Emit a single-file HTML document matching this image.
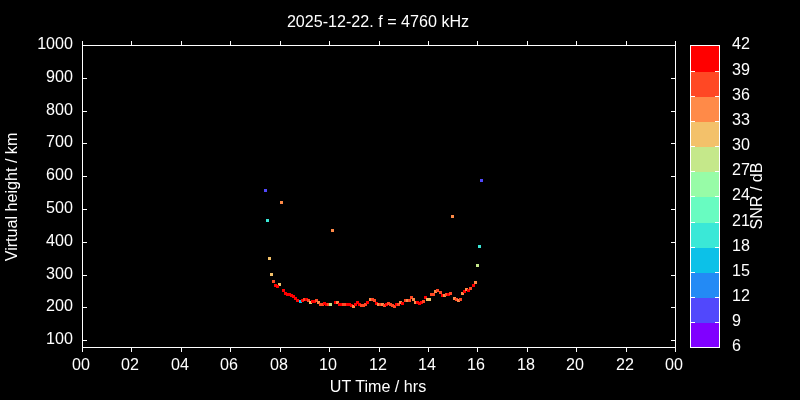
<!DOCTYPE html><html><head><meta charset="utf-8"><style>
html,body{margin:0;padding:0;background:#000;}
body{width:800px;height:400px;position:relative;overflow:hidden;font-family:"Liberation Sans",sans-serif;color:#fff;font-size:16.13px;line-height:20px;}
.l{position:absolute;background:#fff;}
.p{position:absolute;width:3px;height:3px;}
.t{position:absolute;white-space:nowrap;will-change:transform;}
</style></head><body>
<div class="l" style="left:82px;top:45px;width:594px;height:1px"></div>
<div class="l" style="left:82px;top:347px;width:594px;height:1px"></div>
<div class="l" style="left:82px;top:45px;width:1px;height:303px"></div>
<div class="l" style="left:675px;top:45px;width:1px;height:303px"></div>
<div class="l" style="left:82px;top:41px;width:1px;height:4px"></div>
<div class="l" style="left:82px;top:348px;width:1px;height:4px"></div>
<div class="t" style="left:51.25px;width:60px;text-align:center;top:354px">00</div>
<div class="l" style="left:131px;top:41px;width:1px;height:4px"></div>
<div class="l" style="left:131px;top:348px;width:1px;height:4px"></div>
<div class="t" style="left:100.25px;width:60px;text-align:center;top:354px">02</div>
<div class="l" style="left:181px;top:41px;width:1px;height:4px"></div>
<div class="l" style="left:181px;top:348px;width:1px;height:4px"></div>
<div class="t" style="left:150.25px;width:60px;text-align:center;top:354px">04</div>
<div class="l" style="left:230px;top:41px;width:1px;height:4px"></div>
<div class="l" style="left:230px;top:348px;width:1px;height:4px"></div>
<div class="t" style="left:199.25px;width:60px;text-align:center;top:354px">06</div>
<div class="l" style="left:280px;top:41px;width:1px;height:4px"></div>
<div class="l" style="left:280px;top:348px;width:1px;height:4px"></div>
<div class="t" style="left:249.25px;width:60px;text-align:center;top:354px">08</div>
<div class="l" style="left:329px;top:41px;width:1px;height:4px"></div>
<div class="l" style="left:329px;top:348px;width:1px;height:4px"></div>
<div class="t" style="left:298.25px;width:60px;text-align:center;top:354px">10</div>
<div class="l" style="left:379px;top:41px;width:1px;height:4px"></div>
<div class="l" style="left:379px;top:348px;width:1px;height:4px"></div>
<div class="t" style="left:348.25px;width:60px;text-align:center;top:354px">12</div>
<div class="l" style="left:428px;top:41px;width:1px;height:4px"></div>
<div class="l" style="left:428px;top:348px;width:1px;height:4px"></div>
<div class="t" style="left:397.25px;width:60px;text-align:center;top:354px">14</div>
<div class="l" style="left:477px;top:41px;width:1px;height:4px"></div>
<div class="l" style="left:477px;top:348px;width:1px;height:4px"></div>
<div class="t" style="left:446.25px;width:60px;text-align:center;top:354px">16</div>
<div class="l" style="left:527px;top:41px;width:1px;height:4px"></div>
<div class="l" style="left:527px;top:348px;width:1px;height:4px"></div>
<div class="t" style="left:496.25px;width:60px;text-align:center;top:354px">18</div>
<div class="l" style="left:576px;top:41px;width:1px;height:4px"></div>
<div class="l" style="left:576px;top:348px;width:1px;height:4px"></div>
<div class="t" style="left:545.25px;width:60px;text-align:center;top:354px">20</div>
<div class="l" style="left:626px;top:41px;width:1px;height:4px"></div>
<div class="l" style="left:626px;top:348px;width:1px;height:4px"></div>
<div class="t" style="left:595.25px;width:60px;text-align:center;top:354px">22</div>
<div class="l" style="left:675px;top:41px;width:1px;height:4px"></div>
<div class="l" style="left:675px;top:348px;width:1px;height:4px"></div>
<div class="t" style="left:644.25px;width:60px;text-align:center;top:354px">00</div>
<div class="l" style="left:83px;top:340px;width:4px;height:1px"></div>
<div class="l" style="left:671px;top:340px;width:4px;height:1px"></div>
<div class="t" style="left:0px;width:73px;text-align:right;top:328px">100</div>
<div class="l" style="left:83px;top:307px;width:4px;height:1px"></div>
<div class="l" style="left:671px;top:307px;width:4px;height:1px"></div>
<div class="t" style="left:0px;width:73px;text-align:right;top:295px">200</div>
<div class="l" style="left:83px;top:275px;width:4px;height:1px"></div>
<div class="l" style="left:671px;top:275px;width:4px;height:1px"></div>
<div class="t" style="left:0px;width:73px;text-align:right;top:263px">300</div>
<div class="l" style="left:83px;top:242px;width:4px;height:1px"></div>
<div class="l" style="left:671px;top:242px;width:4px;height:1px"></div>
<div class="t" style="left:0px;width:73px;text-align:right;top:230px">400</div>
<div class="l" style="left:83px;top:209px;width:4px;height:1px"></div>
<div class="l" style="left:671px;top:209px;width:4px;height:1px"></div>
<div class="t" style="left:0px;width:73px;text-align:right;top:197px">500</div>
<div class="l" style="left:83px;top:176px;width:4px;height:1px"></div>
<div class="l" style="left:671px;top:176px;width:4px;height:1px"></div>
<div class="t" style="left:0px;width:73px;text-align:right;top:164px">600</div>
<div class="l" style="left:83px;top:143px;width:4px;height:1px"></div>
<div class="l" style="left:671px;top:143px;width:4px;height:1px"></div>
<div class="t" style="left:0px;width:73px;text-align:right;top:131px">700</div>
<div class="l" style="left:83px;top:111px;width:4px;height:1px"></div>
<div class="l" style="left:671px;top:111px;width:4px;height:1px"></div>
<div class="t" style="left:0px;width:73px;text-align:right;top:99px">800</div>
<div class="l" style="left:83px;top:78px;width:4px;height:1px"></div>
<div class="l" style="left:671px;top:78px;width:4px;height:1px"></div>
<div class="t" style="left:0px;width:73px;text-align:right;top:66px">900</div>
<div class="l" style="left:83px;top:45px;width:4px;height:1px"></div>
<div class="l" style="left:671px;top:45px;width:4px;height:1px"></div>
<div class="t" style="left:0px;width:73px;text-align:right;top:33px">1000</div>
<div class="p" style="left:691px;top:46px;width:28px;height:26px;background:#ff0000"></div>
<div class="p" style="left:691px;top:72px;width:28px;height:25px;background:#ff4824"></div>
<div class="p" style="left:691px;top:97px;width:28px;height:25px;background:#ff8a48"></div>
<div class="p" style="left:691px;top:122px;width:28px;height:25px;background:#f3c16a"></div>
<div class="p" style="left:691px;top:147px;width:28px;height:25px;background:#c5e88a"></div>
<div class="p" style="left:691px;top:172px;width:28px;height:25px;background:#97fca7"></div>
<div class="p" style="left:691px;top:197px;width:28px;height:26px;background:#68fcc1"></div>
<div class="p" style="left:691px;top:223px;width:28px;height:25px;background:#3ae8d7"></div>
<div class="p" style="left:691px;top:248px;width:28px;height:25px;background:#0cc1e8"></div>
<div class="p" style="left:691px;top:273px;width:28px;height:25px;background:#238af5"></div>
<div class="p" style="left:691px;top:298px;width:28px;height:25px;background:#5148fc"></div>
<div class="p" style="left:691px;top:323px;width:28px;height:25px;background:#8000ff"></div>
<div class="l" style="left:690px;top:45px;width:30px;height:1px"></div>
<div class="l" style="left:690px;top:347px;width:30px;height:1px"></div>
<div class="l" style="left:690px;top:45px;width:1px;height:303px"></div>
<div class="l" style="left:719px;top:45px;width:1px;height:303px"></div>
<div class="t" style="left:732px;top:335px">6</div>
<div class="l" style="left:691px;top:322px;width:4px;height:1px"></div>
<div class="l" style="left:715px;top:322px;width:4px;height:1px"></div>
<div class="t" style="left:732px;top:310px">9</div>
<div class="l" style="left:691px;top:297px;width:4px;height:1px"></div>
<div class="l" style="left:715px;top:297px;width:4px;height:1px"></div>
<div class="t" style="left:732px;top:285px">12</div>
<div class="l" style="left:691px;top:272px;width:4px;height:1px"></div>
<div class="l" style="left:715px;top:272px;width:4px;height:1px"></div>
<div class="t" style="left:732px;top:260px">15</div>
<div class="l" style="left:691px;top:247px;width:4px;height:1px"></div>
<div class="l" style="left:715px;top:247px;width:4px;height:1px"></div>
<div class="t" style="left:732px;top:235px">18</div>
<div class="l" style="left:691px;top:222px;width:4px;height:1px"></div>
<div class="l" style="left:715px;top:222px;width:4px;height:1px"></div>
<div class="t" style="left:732px;top:210px">21</div>
<div class="l" style="left:691px;top:196px;width:4px;height:1px"></div>
<div class="l" style="left:715px;top:196px;width:4px;height:1px"></div>
<div class="t" style="left:732px;top:184px">24</div>
<div class="l" style="left:691px;top:171px;width:4px;height:1px"></div>
<div class="l" style="left:715px;top:171px;width:4px;height:1px"></div>
<div class="t" style="left:732px;top:159px">27</div>
<div class="l" style="left:691px;top:146px;width:4px;height:1px"></div>
<div class="l" style="left:715px;top:146px;width:4px;height:1px"></div>
<div class="t" style="left:732px;top:134px">30</div>
<div class="l" style="left:691px;top:121px;width:4px;height:1px"></div>
<div class="l" style="left:715px;top:121px;width:4px;height:1px"></div>
<div class="t" style="left:732px;top:109px">33</div>
<div class="l" style="left:691px;top:96px;width:4px;height:1px"></div>
<div class="l" style="left:715px;top:96px;width:4px;height:1px"></div>
<div class="t" style="left:732px;top:84px">36</div>
<div class="l" style="left:691px;top:71px;width:4px;height:1px"></div>
<div class="l" style="left:715px;top:71px;width:4px;height:1px"></div>
<div class="t" style="left:732px;top:59px">39</div>
<div class="t" style="left:732px;top:33px">42</div>
<div class="p" style="left:264px;top:189px;background:#5148fc"></div>
<div class="p" style="left:280px;top:201px;background:#ff8a48"></div>
<div class="p" style="left:266px;top:219px;background:#3ae8d7"></div>
<div class="p" style="left:331px;top:229px;background:#ff8a48"></div>
<div class="p" style="left:268px;top:257px;background:#f3c16a"></div>
<div class="p" style="left:270px;top:273px;background:#f3c16a"></div>
<div class="p" style="left:272px;top:280px;background:#ff4824"></div>
<div class="p" style="left:278px;top:283px;background:#f3c16a"></div>
<div class="p" style="left:274px;top:284px;background:#ff0000"></div>
<div class="p" style="left:276px;top:285px;background:#ff0000"></div>
<div class="p" style="left:282px;top:289px;background:#ff0000"></div>
<div class="p" style="left:284px;top:292px;background:#ff0000"></div>
<div class="p" style="left:286px;top:293px;background:#ff0000"></div>
<div class="p" style="left:288px;top:293px;background:#ff0000"></div>
<div class="p" style="left:290px;top:294px;background:#ff0000"></div>
<div class="p" style="left:292px;top:295px;background:#ff0000"></div>
<div class="p" style="left:294px;top:297px;background:#ff0000"></div>
<div class="p" style="left:296px;top:299px;background:#ff0000"></div>
<div class="p" style="left:299px;top:300px;background:#0cc1e8"></div>
<div class="p" style="left:301px;top:299px;background:#ff0000"></div>
<div class="p" style="left:303px;top:298px;background:#ff4824"></div>
<div class="p" style="left:305px;top:298px;background:#ff0000"></div>
<div class="p" style="left:307px;top:299px;background:#ff4824"></div>
<div class="p" style="left:309px;top:301px;background:#f3c16a"></div>
<div class="p" style="left:311px;top:300px;background:#ff0000"></div>
<div class="p" style="left:313px;top:300px;background:#ff0000"></div>
<div class="p" style="left:315px;top:299px;background:#ff4824"></div>
<div class="p" style="left:317px;top:301px;background:#ff8a48"></div>
<div class="p" style="left:319px;top:303px;background:#ff4824"></div>
<div class="p" style="left:321px;top:303px;background:#ff4824"></div>
<div class="p" style="left:323px;top:302px;background:#ff0000"></div>
<div class="p" style="left:325px;top:303px;background:#ff0000"></div>
<div class="p" style="left:327px;top:303px;background:#ff4824"></div>
<div class="p" style="left:329px;top:303px;background:#c5e88a"></div>
<div class="p" style="left:334px;top:301px;background:#ff0000"></div>
<div class="p" style="left:336px;top:301px;background:#ff8a48"></div>
<div class="p" style="left:338px;top:303px;background:#ff0000"></div>
<div class="p" style="left:340px;top:303px;background:#ff0000"></div>
<div class="p" style="left:342px;top:303px;background:#ff4824"></div>
<div class="p" style="left:344px;top:303px;background:#ff4824"></div>
<div class="p" style="left:346px;top:303px;background:#ff0000"></div>
<div class="p" style="left:348px;top:303px;background:#ff0000"></div>
<div class="p" style="left:350px;top:304px;background:#ff0000"></div>
<div class="p" style="left:352px;top:305px;background:#ff8a48"></div>
<div class="p" style="left:354px;top:303px;background:#ff0000"></div>
<div class="p" style="left:356px;top:301px;background:#ff0000"></div>
<div class="p" style="left:358px;top:303px;background:#ff0000"></div>
<div class="p" style="left:360px;top:304px;background:#ff4824"></div>
<div class="p" style="left:362px;top:304px;background:#ff4824"></div>
<div class="p" style="left:364px;top:303px;background:#ff4824"></div>
<div class="p" style="left:366px;top:301px;background:#ff0000"></div>
<div class="p" style="left:369px;top:298px;background:#ff8a48"></div>
<div class="p" style="left:371px;top:298px;background:#ff4824"></div>
<div class="p" style="left:373px;top:299px;background:#ff4824"></div>
<div class="p" style="left:375px;top:302px;background:#ff0000"></div>
<div class="p" style="left:377px;top:303px;background:#ff8a48"></div>
<div class="p" style="left:379px;top:303px;background:#ff4824"></div>
<div class="p" style="left:381px;top:303px;background:#ff8a48"></div>
<div class="p" style="left:383px;top:304px;background:#ff4824"></div>
<div class="p" style="left:385px;top:303px;background:#ff0000"></div>
<div class="p" style="left:387px;top:302px;background:#ff4824"></div>
<div class="p" style="left:389px;top:303px;background:#ff4824"></div>
<div class="p" style="left:391px;top:304px;background:#ff4824"></div>
<div class="p" style="left:393px;top:305px;background:#ff4824"></div>
<div class="p" style="left:395px;top:303px;background:#ff0000"></div>
<div class="p" style="left:397px;top:303px;background:#ff4824"></div>
<div class="p" style="left:399px;top:301px;background:#ff8a48"></div>
<div class="p" style="left:401px;top:302px;background:#ff0000"></div>
<div class="p" style="left:404px;top:299px;background:#ff4824"></div>
<div class="p" style="left:406px;top:299px;background:#ff8a48"></div>
<div class="p" style="left:408px;top:299px;background:#ff4824"></div>
<div class="p" style="left:410px;top:296px;background:#ff4824"></div>
<div class="p" style="left:412px;top:298px;background:#ff8a48"></div>
<div class="p" style="left:414px;top:301px;background:#ff8a48"></div>
<div class="p" style="left:416px;top:301px;background:#ff0000"></div>
<div class="p" style="left:418px;top:302px;background:#ff0000"></div>
<div class="p" style="left:420px;top:301px;background:#ff0000"></div>
<div class="p" style="left:422px;top:300px;background:#ff4824"></div>
<div class="p" style="left:424px;top:296px;background:#ff0000"></div>
<div class="p" style="left:426px;top:298px;background:#f3c16a"></div>
<div class="p" style="left:428px;top:298px;background:#f3c16a"></div>
<div class="p" style="left:430px;top:293px;background:#ff4824"></div>
<div class="p" style="left:432px;top:293px;background:#ff4824"></div>
<div class="p" style="left:434px;top:290px;background:#ff8a48"></div>
<div class="p" style="left:436px;top:289px;background:#ff4824"></div>
<div class="p" style="left:439px;top:291px;background:#ff4824"></div>
<div class="p" style="left:441px;top:294px;background:#ff0000"></div>
<div class="p" style="left:443px;top:294px;background:#ff8a48"></div>
<div class="p" style="left:445px;top:293px;background:#ff4824"></div>
<div class="p" style="left:447px;top:293px;background:#ff0000"></div>
<div class="p" style="left:449px;top:292px;background:#ff4824"></div>
<div class="p" style="left:451px;top:215px;background:#ff8a48"></div>
<div class="p" style="left:453px;top:297px;background:#ff8a48"></div>
<div class="p" style="left:455px;top:298px;background:#ff4824"></div>
<div class="p" style="left:457px;top:299px;background:#ff8a48"></div>
<div class="p" style="left:459px;top:298px;background:#ff4824"></div>
<div class="p" style="left:461px;top:292px;background:#ff8a48"></div>
<div class="p" style="left:463px;top:290px;background:#ff0000"></div>
<div class="p" style="left:465px;top:288px;background:#ff8a48"></div>
<div class="p" style="left:467px;top:289px;background:#ff0000"></div>
<div class="p" style="left:469px;top:287px;background:#ff4824"></div>
<div class="p" style="left:472px;top:284px;background:#ff0000"></div>
<div class="p" style="left:474px;top:281px;background:#ff8a48"></div>
<div class="p" style="left:476px;top:264px;background:#c5e88a"></div>
<div class="p" style="left:478px;top:245px;background:#3ae8d7"></div>
<div class="p" style="left:480px;top:179px;background:#5148fc"></div>
<div class="t" style="left:178px;width:400px;text-align:center;top:11px">2025-12-22. f = 4760 kHz</div>
<div class="t" style="left:178px;width:400px;text-align:center;top:376px">UT Time / hrs</div>
<div class="t" style="left:-89px;top:186.5px;width:200px;text-align:center;transform:rotate(-90deg);">Virtual height / km</div>
<div class="t" style="left:656px;top:186px;width:200px;text-align:center;transform:rotate(-90deg);">SNR / dB</div>
</body></html>
